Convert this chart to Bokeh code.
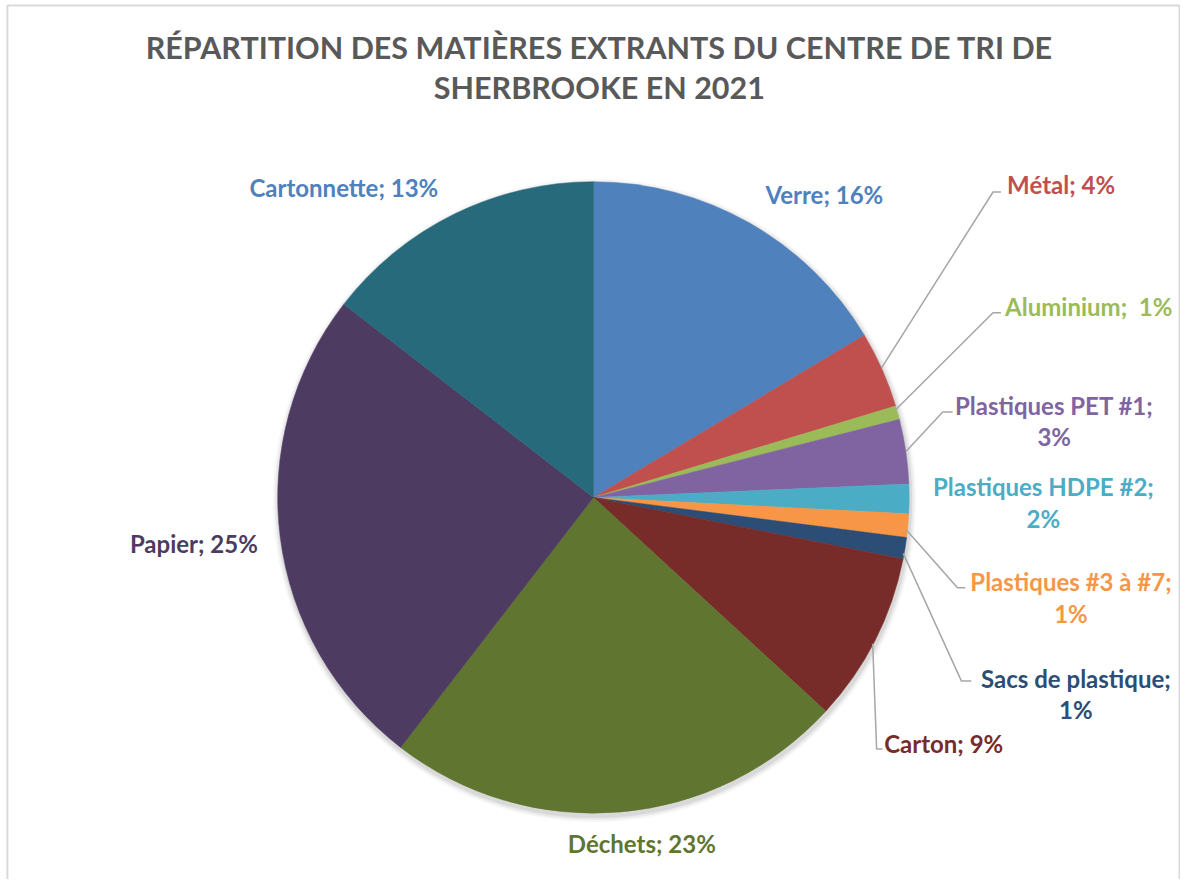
import math
from bokeh.plotting import figure
from bokeh.models import Range1d, ColumnDataSource
from bokeh.core.properties import value
from bokeh.embed import file_html
from bokeh.resources import INLINE

# ---- data ----
categories = ["Verre", "Métal", "Aluminium", "Plastiques PET #1", "Plastiques HDPE #2",
              "Plastiques #3 à #7", "Sacs de plastique", "Carton", "Déchets", "Papier", "Cartonnette"]
shares = [16.4, 3.9, 0.7, 3.3, 1.5, 1.2, 1.1, 8.7, 23.6, 25.0, 14.5]
label_texts = ["Verre; 16%", "Métal; 4%", "Aluminium;\u00a0 1%", "Plastiques PET #1;\n3%",
               "Plastiques HDPE #2;\n2%", "Plastiques #3 à #7;\n1%", "Sacs de plastique;\n1%",
               "Carton; 9%", "Déchets; 23%", "Papier; 25%", "Cartonnette; 13%"]
colors = ["#4F81BD", "#C0504D", "#9BBB59", "#8064A2", "#4BACC6", "#F79646",
          "#2C4D75", "#772C2A", "#5F7530", "#4D3B62", "#276A7C"]
label_colors = ["#4F81BD", "#C0504D", "#9BBB59", "#8064A2", "#4BACC6", "#F79646",
                "#2C4D75", "#772C2A", "#5F7530", "#4D3B62", "#4F81BD"]
title_lines = ["RÉPARTITION DES MATIÈRES EXTRANTS DU CENTRE DE TRI DE", "SHERBROOKE EN 2021"]

# ---- layout: data space = reference image pixels (y measured upward) ----
W, H = 1180, 879
IW, IH = 1196, 895
def Y(img_y):
    return IH - img_y

cx, cy, R = 601, Y(506), 320

p = figure(width=W, height=H, output_backend="svg", toolbar_location=None,
           x_range=Range1d(0, IW), y_range=Range1d(0, IH))
p.min_border = 0
p.axis.visible = False
p.grid.visible = False
p.outline_line_color = None
p.background_fill_color = "white"
p.border_fill_color = "white"

# chart border
p.line(x=[7, 7, 1195, 1195], y=[Y(900), Y(5), Y(5), Y(900)], line_color="#D9D9D9", line_width=2)

total = sum(shares)
starts, ends = [], []
cum = 0.0
for s in shares:
    a0 = math.pi / 2 - 2 * math.pi * cum / total
    cum += s
    a1 = math.pi / 2 - 2 * math.pi * cum / total
    starts.append(a0)
    ends.append(a1)

# soft shadow
for r_add, alpha in [(6, 0.03), (4, 0.05), (2, 0.07)]:
    p.circle(x=cx + 1, y=cy - 3, radius=R + r_add, fill_color="black", fill_alpha=alpha, line_color=None)

src = ColumnDataSource(dict(start=starts, end=ends, color=colors, cat=categories))
p.wedge(x=cx, y=cy, radius=R, start_angle="start", end_angle="end", direction="clock",
        fill_color="color", line_color="color", line_width=0.5, source=src)

# leader lines (image coords)
leaders = {
    1: [(893, 374), (1006, 195), (1014, 195)],
    2: [(906, 418), (1006, 318), (1014, 318)],
    3: [(918, 459), (955, 419), (965, 419)],
    5: [(918, 539), (970, 598), (978, 598)],
    6: [(915, 563), (974, 693), (984, 693)],
    7: [(884, 655), (888, 762), (894, 762)],
}
for k, pts in leaders.items():
    p.line(x=[q[0] for q in pts], y=[Y(q[1]) for q in pts], line_color="#A6A6A6", line_width=1.5)

# label positions (image coords, centre of first line)
label_pos = [(835, 198), (1075, 187), (1103, 312), (1068, 412), (1057, 495),
             (1085, 592), (1090, 690), (956, 757), (650, 858), (196, 553), (348, 190)]
font = "Lato"
for i, txt in enumerate(label_texts):
    lines = txt.split("\n")
    x0, y0 = label_pos[i]
    for j, ln in enumerate(lines):
        p.text(x=[x0], y=[Y(y0 + 32 * j)], text=[ln], text_font=value(font),
               text_font_style="bold", text_font_size="24px", text_color=label_colors[i],
               text_align="center", text_baseline="middle")

for j, ln in enumerate(title_lines):
    p.text(x=[607], y=[Y(47 + 41 * j)], text=[ln], text_font=value(font),
           text_font_style="bold", text_font_size="30.5px", text_color="#595959",
           text_align="center", text_baseline="middle")

open("out.html", "w").write(file_html(p, INLINE))
